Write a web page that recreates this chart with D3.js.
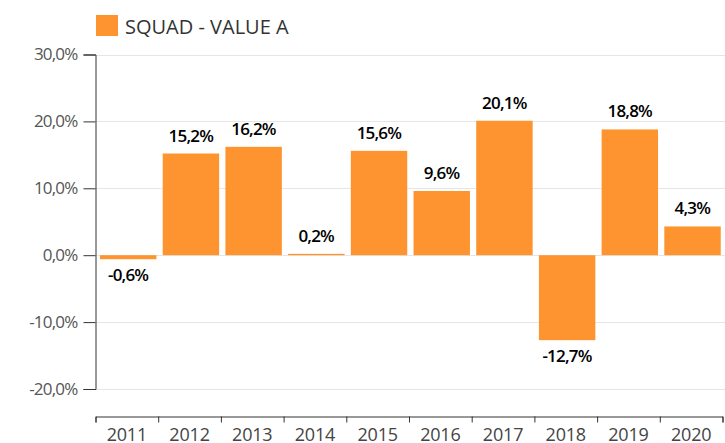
<!DOCTYPE html>
<html>
<head>
<meta charset="utf-8">
<script src="https://cdn.jsdelivr.net/npm/d3@7"></script>
<style>
  body { margin: 0; background: #fff; font-family: "Open Sans", sans-serif; }
  svg { display: block; }
  .y .tick text { fill: #555; font-size: 17px; letter-spacing: -0.8px; }
  .x .tick text { fill: #444; font-size: 18px; letter-spacing: -0.2px; }
  .domain, .tick line { stroke: #333; }
  .grid line { stroke: #e6e6e6; }
  .barNumber { font-size: 17px; font-weight: 600; fill: #000; text-anchor: middle; letter-spacing: -0.8px; }
  .keyText { font-size: 20px; fill: #333; }
</style>
</head>
<body>
<div id="graphicContainer"></div>
<script>
var years = ["2011", "2012", "2013", "2014", "2015", "2016", "2017", "2018", "2019", "2020"]
var values = [-0.6, 15.2, 16.2, 0.2, 15.6, 9.6, 20.1, -12.7, 18.8, 4.3]
var yTicks = [-20, -10, 0, 10, 20, 30]
var seriesName = "SQUAD - VALUE A"
var barColour = "#fe9430"

var width = 725
var height = 443

function pctFormat(num) {
  return d3.format(".1f")(num).replace(".", ",").replace("−", "-") + "%"
}

var svg = d3.select("#graphicContainer").append("svg")
  .attr("width", width)
  .attr("height", height)

var data = years.map(function (y, i) {
  return { year: y, value: values[i] }
})

// year bands, ticks sit on the band edges
var x = d3.scaleBand().domain(years).range([95.5, 722.5]).padding(0)
var xEdges = d3.scaleLinear().domain([0, years.length]).range([95.5, 722.5])
var y = d3.scaleLinear().domain([-20, 30]).range([389, 54.5])

// gridlines
svg.append("g")
  .attr("class", "grid")
  .selectAll("line")
  .data(yTicks)
  .enter().append("line")
  .attr("x1", 96)
  .attr("x2", width)
  .attr("y1", d => Math.round(y(d)) + 0.5)
  .attr("y2", d => Math.round(y(d)) + 0.5)

// bars
var step = x.step()
svg.selectAll(".bar")
  .data(data)
  .enter().append("rect")
  .attr("class", "bar")
  .attr("x", d => x(d.year) + step * 0.072)
  .attr("width", step * 0.9)
  .attr("y", d => y(Math.max(0, d.value)))
  .attr("height", d => Math.abs(y(d.value) - y(0)))
  .attr("fill", barColour)

// value labels
svg.selectAll(".barNumber")
  .data(data)
  .enter().append("text")
  .attr("class", "barNumber")
  .attr("x", d => x(d.year) + step * 0.52)
  .attr("y", function (d) {
    if (d.value >= 0) {
      return y(d.value) - 12
    } else {
      return y(d.value) + 22
    }
  })
  .text(d => pctFormat(d.value))

// y axis
var yAxis = d3.axisLeft(y)
  .tickValues(yTicks)
  .tickSize(12)
  .tickPadding(6)
  .tickFormat(pctFormat)

svg.append("g")
  .attr("class", "y")
  .attr("transform", "translate(95.5,0)")
  .call(yAxis)
  .selectAll(".tick text")
  .attr("font-family", "Open Sans")

// x axis: edge ticks
svg.append("g")
  .attr("class", "xEdges")
  .attr("transform", "translate(0,416.5)")
  .call(d3.axisBottom(xEdges).tickValues(d3.range(years.length + 1)).tickSize(6).tickFormat(""))

// x axis: year labels
var xAxisG = svg.append("g")
  .attr("class", "x")
  .attr("transform", "translate(0,416.5)")
  .call(d3.axisBottom(x).tickSize(0).tickPadding(11.5))
xAxisG.select(".domain").remove()
xAxisG.selectAll(".tick text").attr("font-family", "Open Sans")

// legend
svg.append("rect")
  .attr("x", 96)
  .attr("y", 15)
  .attr("width", 22)
  .attr("height", 21)
  .attr("fill", barColour)

svg.append("text")
  .attr("class", "keyText")
  .attr("x", 125)
  .attr("y", 34)
  .text(seriesName)
</script>
</body>
</html>
